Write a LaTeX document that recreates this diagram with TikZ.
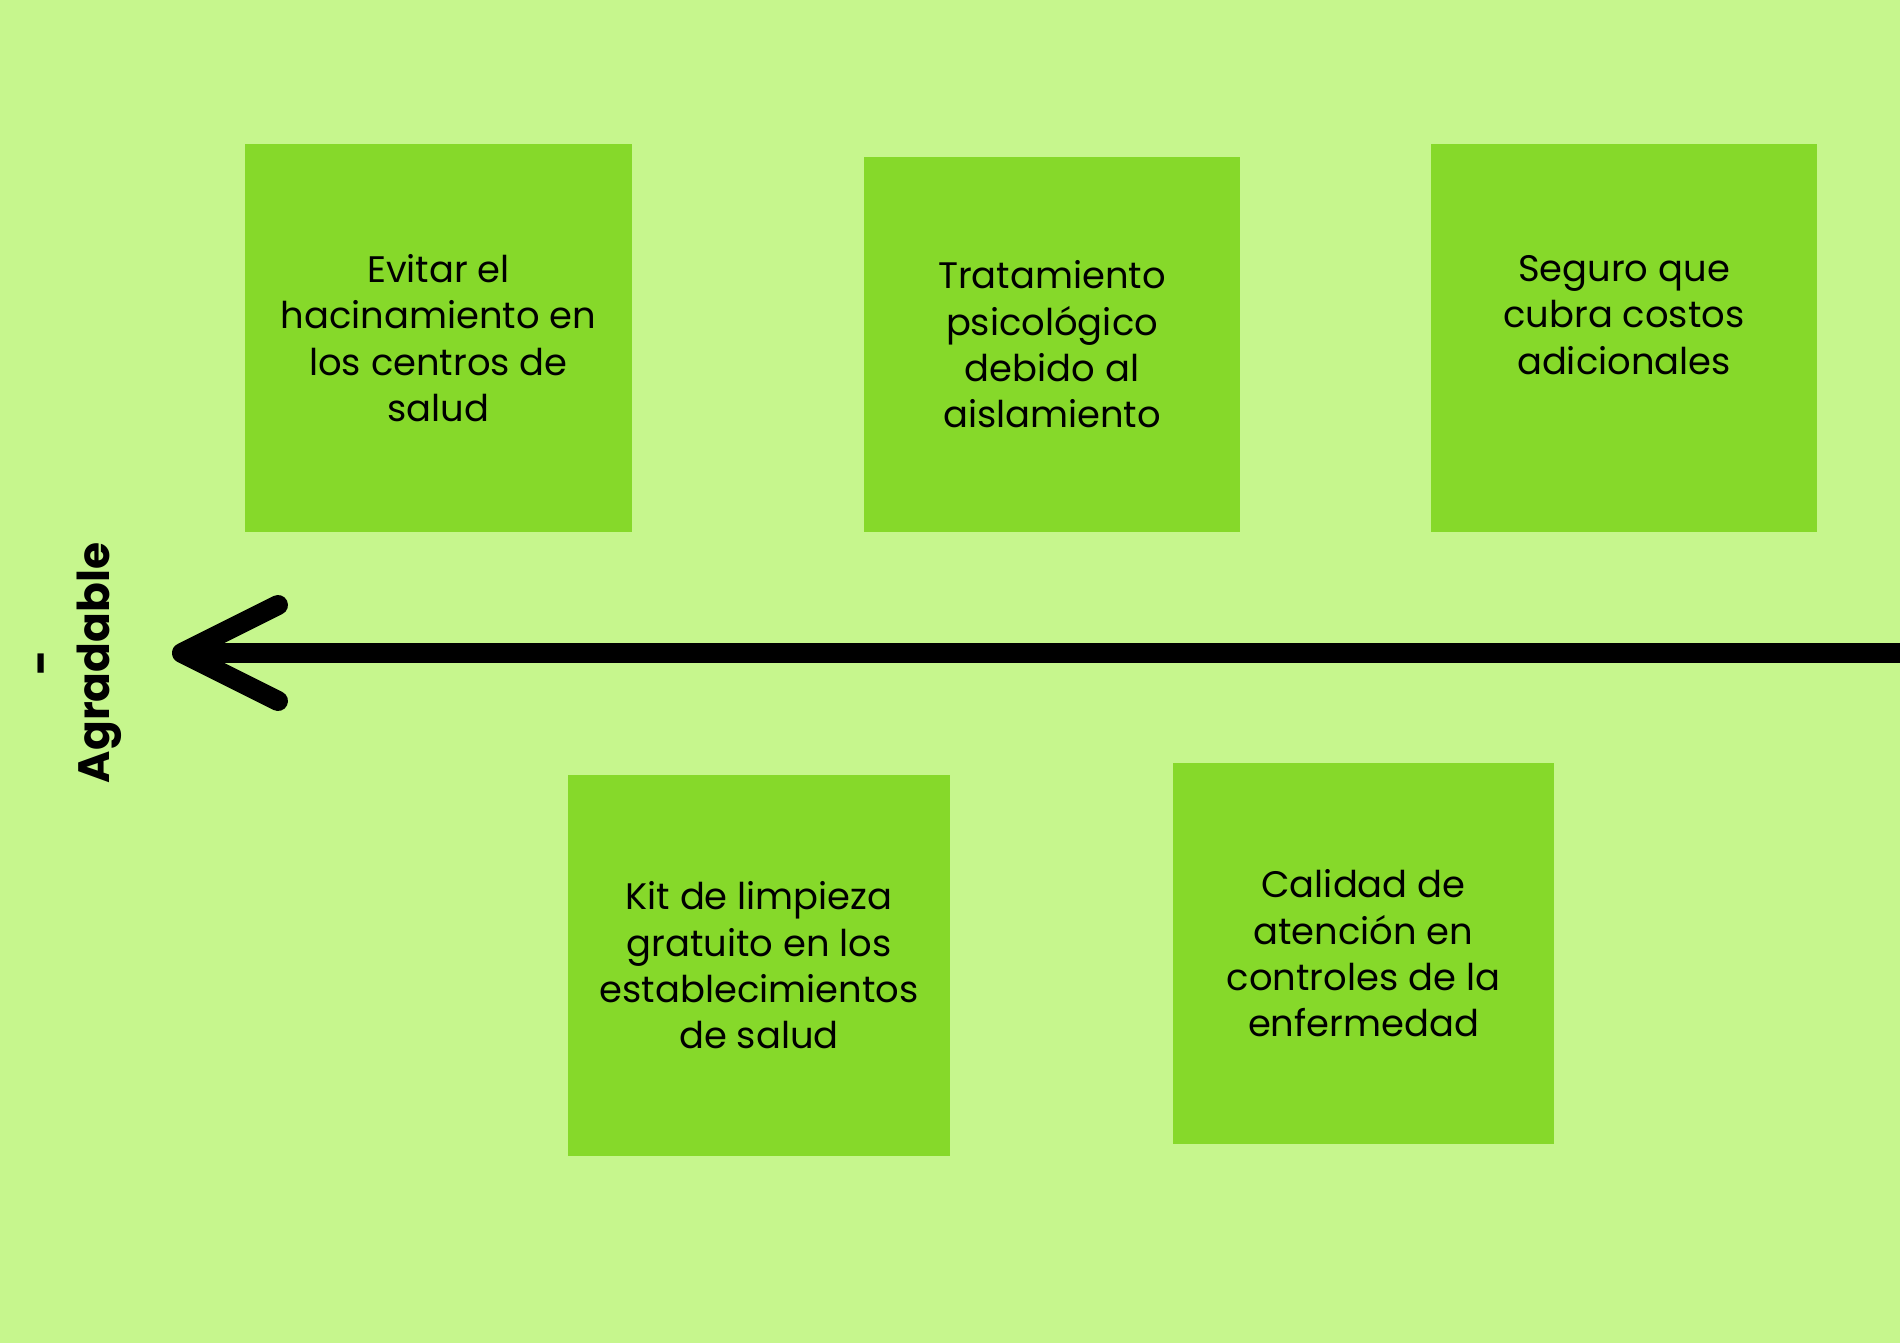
\documentclass[tikz,border=0pt]{standalone}
\usepackage{fontspec}
\setmainfont{Poppins}
\usepackage{tikz}
\usetikzlibrary{arrows.meta, positioning}
\usepackage{xcolor}
\definecolor{fondo}{HTML}{C6F68D}
\definecolor{tarjeta}{HTML}{86D92A}

\begin{document}
\begin{tikzpicture}[
x=0.02cm, y=-0.02cm,
box/.style={fill=tarjeta,
rectangle,
minimum width=7.74cm,
minimum height=7.76cm,
align=center,
font=\fontsize{21}{26.4}\selectfont},
arrow/.style={line width=0.4cm, line cap=round, line join=round}
]

\fill[fondo] (0,0) rectangle (1900,1343);
\useasboundingbox (0,0) rectangle (1900,1343);

\node[box] (evitar) at (438.5,338) {Evitar el\\hacinamiento en\\los centros de\\salud};
\node[box, minimum width=7.52cm, minimum height=7.5cm] (tratamiento) at (1052,344.5) {Tratamiento\\psicológico\\debido al\\aislamiento};
\node[box] (seguro) at (1624,338) {Seguro que\\cubra costos\\adicionales\\ \mbox{}};
\node[box, minimum width=7.64cm, minimum height=7.62cm] (kit) at (759,965.5) {Kit de limpieza\\gratuito en los\\establecimientos\\de salud};
\node[box, minimum width=7.62cm, minimum height=7.62cm] (calidad) at (1363.5,953.5) {Calidad de\\atención en\\controles de la\\enfermedad};

\node[rotate=90, align=center, font=\fontsize{25}{30}\selectfont\bfseries] (agradable) at (80,663) {-\\Agradable};

\coordinate (fin) at (1900,653);
\coordinate (punta) at (182,653);
\coordinate (alaA) at (278,605);
\coordinate (alaB) at (278,701);

\draw[arrow, line cap=butt] (fin) -- (punta);
\draw[arrow] (alaA) -- (punta) -- (alaB);

\end{tikzpicture}
\end{document}
